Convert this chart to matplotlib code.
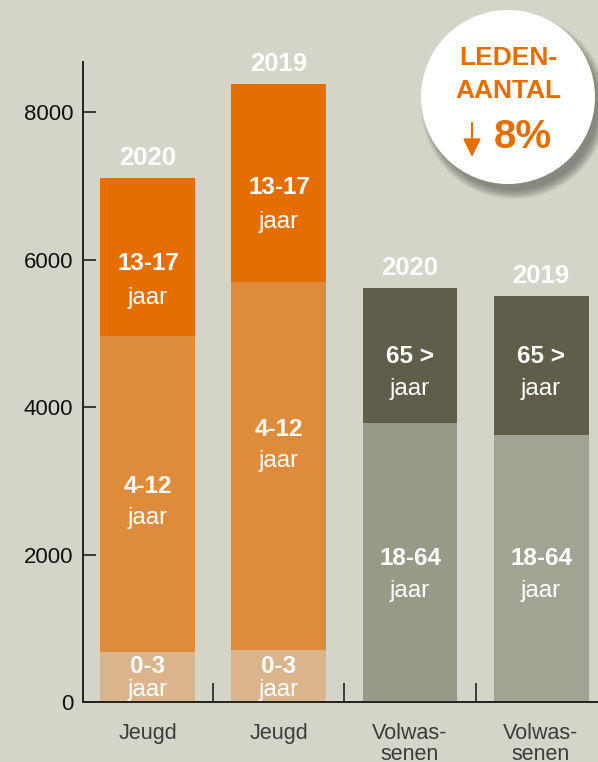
import matplotlib.pyplot as plt
from matplotlib.patches import Ellipse, FancyArrowPatch
import numpy as np

plt.rcParams['font.family'] = ['Liberation Sans', 'DejaVu Sans']

# data
categories = ['Jeugd', 'Jeugd', 'Volwas-\nsenen', 'Volwas-\nsenen']
years = ['2020', '2019', '2020', '2019']

jeugd_03 = [675, 700]
jeugd_412 = [4285, 4990]
jeugd_1317 = [2140, 2690]
volw_1864 = [3780, 3620]
volw_65 = [1830, 1880]

# label texts and their baselines (first line, "jaar")
jeugd_labels = ['0-3', '4-12', '13-17']
jeugd_label_y = [[(389, 77), (2830, 2409), (5854, 5393)],
                 [(389, 77), (3603, 3183), (6884, 6423)]]
volw_labels = ['18-64', '65 >']
volw_label_y = [[(1854, 1420), (4593, 4159)],
                [(1854, 1420), (4593, 4159)]]

bg = '#d4d4c8'
orange_dark = '#e46f00'
orange_mid = '#de8b3b'
orange_light = '#d9b48c'
gray_dark = '#5f5e4a'
gray_light = ['#999987', '#a3a393']

fig = plt.figure(figsize=(5.98, 7.62), dpi=100, facecolor=bg)
ax = fig.add_axes([83/598, 60/762, 1 - 83/598, 640/762])
ax.set_facecolor(bg)

x = np.arange(4)
w = 0.725
xj = x[:2]
xv = x[2:]

ax.bar(xj, jeugd_03, w, color=orange_light)
ax.bar(xj, jeugd_412, w, bottom=jeugd_03, color=orange_mid)
b2 = np.add(jeugd_03, jeugd_412)
ax.bar(xj, jeugd_1317, w, bottom=b2, color=orange_dark)
ax.bar(xv, volw_1864, w, color=gray_light)
ax.bar(xv, volw_65, w, bottom=volw_1864, color=gray_dark)

totals = list(b2 + np.array(jeugd_1317)) + list(np.add(volw_1864, volw_65))
for xi, t, yr in zip(x, totals, years):
    ax.annotate(yr, (xi, t), xytext=(0, 9.7), textcoords='offset points',
                ha='center', va='baseline', color='white', fontsize=18.5,
                fontweight='bold')

def seg_label(xi, lab, ys):
    ax.text(xi, ys[0], lab, ha='center', va='baseline', color='white',
            fontsize=17.5, fontweight='bold')
    ax.text(xi, ys[1], 'jaar', ha='center', va='baseline', color='white',
            fontsize=17.5)

for i, xi in enumerate(xj):
    for lab, ys in zip(jeugd_labels, jeugd_label_y[i]):
        seg_label(xi, lab, ys)
for i, xi in enumerate(xv):
    for lab, ys in zip(volw_labels, volw_label_y[i]):
        seg_label(xi, lab, ys)

ax.set_xlim(-0.496, 3.435)
ax.set_ylim(0, 8678)
for s in ['top', 'right']:
    ax.spines[s].set_visible(False)
for s in ['left', 'bottom']:
    ax.spines[s].set_color('#222222')
    ax.spines[s].set_linewidth(1.4)

ax.set_yticks([0, 2000, 4000, 6000, 8000])
ax.tick_params(axis='y', direction='in', length=9.4, width=1.2,
               color='#222222', labelsize=16, pad=7, labelcolor='#111111')
ax.set_xticks(x)
ax.set_xticklabels(categories, fontsize=15.5, color='#3c3c3c', linespacing=1.0)
ax.tick_params(axis='x', which='major', length=0, pad=15)
ax.set_xticks([0.5, 1.5, 2.5], minor=True)
ax.tick_params(axis='x', which='minor', direction='in', length=13.7,
               width=1.2, color='#222222')

# badge
W, H = 598, 762
cx, cy, r = 508, 97, 87
for k in range(10):
    fig.add_artist(Ellipse(((cx + 6) / W, 1 - (cy + 9) / H),
                           2 * (r + 6 - k) / W, 2 * (r + 6 - k) / H,
                           transform=fig.transFigure, color='#4a4a40',
                           alpha=0.07, lw=0, zorder=9))
fig.add_artist(Ellipse((cx / W, 1 - cy / H), 2 * r / W, 2 * r / H,
                       transform=fig.transFigure, color='white', lw=0, zorder=10))
fig.text(cx / W, 1 - 58 / H, 'LEDEN-', ha='center', va='center',
         color=orange_dark, fontsize=19, fontweight='bold', zorder=11)
fig.text(cx / W, 1 - 91 / H, 'AANTAL', ha='center', va='center',
         color=orange_dark, fontsize=19, fontweight='bold', zorder=11)
fig.text(523 / W, 1 - 137 / H, '8%', ha='center', va='center',
         color=orange_dark, fontsize=29, fontweight='bold', zorder=11)
arr = FancyArrowPatch((472 / W, 1 - 123 / H), (472 / W, 1 - 157 / H),
                      transform=fig.transFigure,
                      arrowstyle='-|>,head_length=0.55,head_width=0.27',
                      mutation_scale=20, color=orange_dark, lw=1.5,
                      shrinkA=0, shrinkB=0, zorder=11)
fig.add_artist(arr)

fig.savefig('out.png', dpi=100, facecolor=bg)
